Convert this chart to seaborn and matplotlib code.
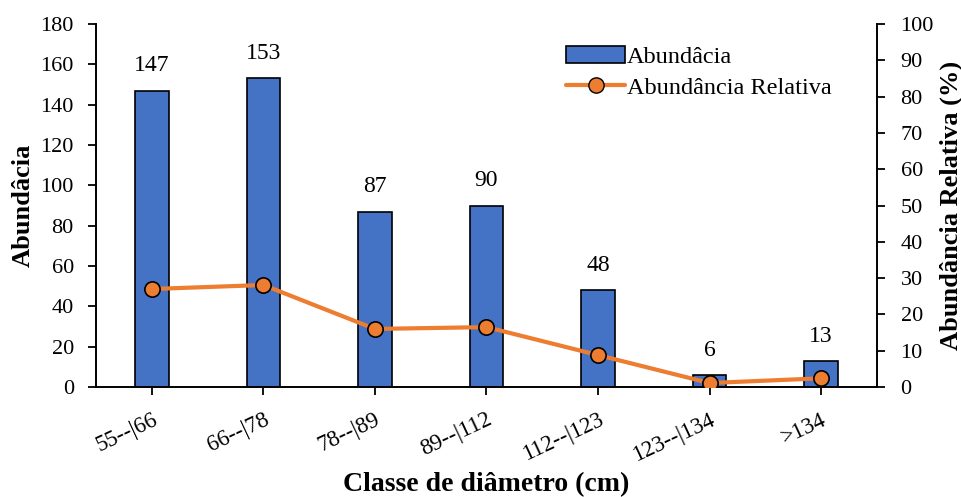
import matplotlib
matplotlib.use("Agg")
import matplotlib.pyplot as plt
import seaborn as sns
import numpy as np
import pandas as pd
from matplotlib.lines import Line2D
from matplotlib.patches import Patch

# Diameter classes and counts
classes = ["55--|66", "66--|78", "78--|89", "89--|112", "112--|123", "123--|134", ">134"]
abundancia = [147, 153, 87, 90, 48, 6, 13]
abundancia_relativa = [27.0, 28.1, 16.0, 16.5, 8.8, 1.1, 2.4]

left_ticks = list(range(0, 181, 20))
right_ticks = list(range(0, 101, 10))

sns.set_theme(style="white")
plt.rcParams["font.family"] = ["Liberation Serif", "DejaVu Serif"]
plt.rcParams["text.color"] = "black"
plt.rcParams["axes.labelcolor"] = "black"

BAR_BLUE = "#4472C4"
LINE_ORANGE = "#ED7D31"
FS = 16
LABEL_FS = 19

df = pd.DataFrame({"classe": classes, "abund": abundancia, "rel": abundancia_relativa})
df["pos"] = np.arange(len(df))

fig = plt.figure(figsize=(9.62, 4.97), dpi=100)
ax = fig.add_axes([0.0998, 0.2213, 0.9116 - 0.0998, 0.9517 - 0.2213])

sns.barplot(data=df, x="classe", y="abund", ax=ax, color=BAR_BLUE,
            width=0.30, edgecolor="black", linewidth=1.2, saturation=1)

for i, v in enumerate(abundancia):
    ax.text(i, v + 7, str(v), ha="center", va="bottom", fontsize=FS + 1, color="black")

ax.set_ylim(0, 180)
ax.set_xlim(-0.5, len(classes) - 0.5)
ax.set_yticks(left_ticks)
ax.set_yticklabels([str(t) for t in left_ticks], fontsize=FS)
ax.set_xticks(range(len(classes)))
ax.set_xticklabels(classes, fontsize=FS + 0.5, rotation=25, ha="right",
                   rotation_mode="anchor")
ax.set_ylabel("Abundâcia", fontsize=LABEL_FS, fontweight="bold", labelpad=4)
ax.set_xlabel("Classe de diâmetro (cm)", fontsize=LABEL_FS + 1, fontweight="bold",
              labelpad=5)

ax2 = ax.twinx()
sns.lineplot(data=df, x="pos", y="rel", ax=ax2, color=LINE_ORANGE, linewidth=3,
             marker="o", markersize=11, markerfacecolor=LINE_ORANGE,
             markeredgecolor="black", markeredgewidth=1.2)
ax2.set_ylim(0, 100)
ax2.set_yticks(right_ticks)
ax2.set_yticklabels([str(t) for t in right_ticks], fontsize=FS)
ax2.set_ylabel("Abundância Relativa (%)", fontsize=LABEL_FS, fontweight="bold", labelpad=4)
ax2.set_xlim(-0.5, len(classes) - 0.5)

for a in (ax, ax2):
    for s in a.spines.values():
        s.set_visible(False)
    a.tick_params(axis="both", direction="out", length=6, width=1.3, color="black",
                  labelcolor="black")
    a.grid(False)

ax.spines["left"].set_visible(True)
ax.spines["bottom"].set_visible(True)
ax2.spines["right"].set_visible(True)
for s in (ax.spines["left"], ax.spines["bottom"], ax2.spines["right"]):
    s.set_color("black")
    s.set_linewidth(1.4)
ax.tick_params(axis="x", bottom=True, length=6, pad=10)
ax.tick_params(axis="y", left=True, pad=10)
ax2.tick_params(axis="y", right=True, pad=11)

handles = [
    Patch(facecolor=BAR_BLUE, edgecolor="black", linewidth=1.2, label="Abundâcia"),
    Line2D([0], [0], color=LINE_ORANGE, linewidth=3, marker="o", markersize=11,
           markerfacecolor=LINE_ORANGE, markeredgecolor="black",
           label="Abundância Relativa"),
]
ax2.legend(handles=handles, loc="upper left", bbox_to_anchor=(0.59, 0.965), frameon=False,
           fontsize=17.5, handlelength=2.4, handletextpad=0.1, labelspacing=0.35,
           borderaxespad=0)

fig.savefig("out.png", dpi=100)
